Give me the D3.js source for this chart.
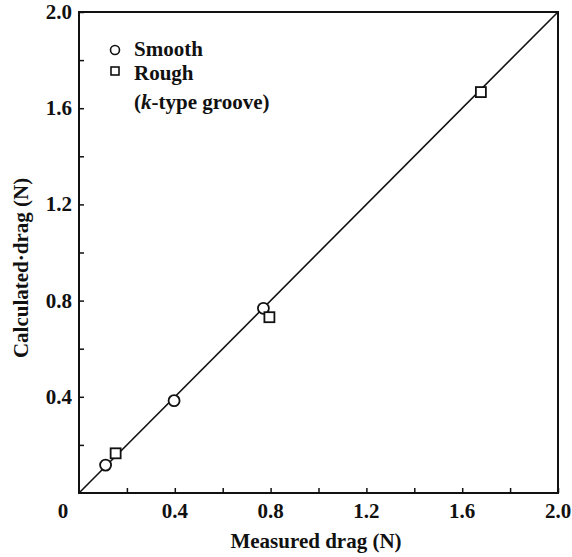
<!DOCTYPE html>
<html><head><meta charset="utf-8">
<script src="https://cdn.jsdelivr.net/npm/d3@7"></script>
<style>body{margin:0;background:#fff}svg{display:block}text{font-family:"Liberation Serif","Times New Roman",serif;font-weight:bold;fill:#111}</style>
</head><body>
<svg id="c" width="572" height="557"></svg>
<script>
const smoothX = [0.111, 0.397, 0.770];
const smoothY = [0.116, 0.384, 0.768];
const roughX = [0.153, 0.795, 1.678];
const roughY = [0.165, 0.731, 1.667];
const lineX = [0, 2.0];
const lineY = [0, 2.0];
const tickValues = [0.2, 0.4, 0.6, 0.8, 1.0, 1.2, 1.4, 1.6, 1.8, 2.0];
const labelValues = [0.4, 0.8, 1.2, 1.6, 2.0];
const legendLabels = ["Smooth", "Rough"];

const svg = d3.select("#c");
const x = d3.scaleLinear().domain([0, 2]).range([79, 558]);
const y = d3.scaleLinear().domain([0, 2]).range([493, 12]);
const ink = "#111";

// frame
svg.append("rect").attr("x", x(0)).attr("y", y(2)).attr("width", x(2) - x(0)).attr("height", y(0) - y(2))
  .attr("fill", "none").attr("stroke", ink).attr("stroke-width", 2);

// inward ticks
const bx = d3.axisTop(x).tickValues(tickValues).tickSize(5).tickFormat("");
const gb = svg.append("g").attr("transform", `translate(0,${y(0)})`).call(bx);
const ly = d3.axisRight(y).tickValues(tickValues).tickSize(5).tickFormat("");
const gl = svg.append("g").attr("transform", `translate(${x(0)},0)`).call(ly);
[gb, gl].forEach(g => { g.select(".domain").remove(); g.selectAll("line").attr("stroke", ink).attr("stroke-width", 1.5); });

// tick labels
svg.append("g").selectAll("text").data(labelValues).join("text")
  .attr("x", d => x(d)).attr("y", 518).attr("text-anchor", "middle").attr("font-size", 21).text(d => d.toFixed(1));
svg.append("g").selectAll("text").data(labelValues).join("text")
  .attr("x", 72).attr("y", d => y(d) + 7).attr("text-anchor", "end").attr("font-size", 21).text(d => d.toFixed(1));
svg.append("text").attr("x", 63).attr("y", 518).attr("text-anchor", "middle").attr("font-size", 21).text("0");

// axis titles
svg.append("text").attr("x", 316).attr("y", 548).attr("text-anchor", "middle").attr("font-size", 21).text("Measured drag (N)");
svg.append("text").attr("transform", "translate(28,268) rotate(-90)").attr("text-anchor", "middle").attr("font-size", 21).text("Calculated·drag (N)");

// diagonal line
svg.append("path").datum(lineX.map((d, i) => [d, lineY[i]]))
  .attr("d", d3.line().x(d => x(d[0])).y(d => y(d[1])))
  .attr("fill", "none").attr("stroke", ink).attr("stroke-width", 1.6);

// points
const smooth = smoothX.map((d, i) => [d, smoothY[i]]);
const rough = roughX.map((d, i) => [d, roughY[i]]);
svg.append("g").selectAll("circle").data(smooth).join("circle")
  .attr("cx", d => x(d[0])).attr("cy", d => y(d[1])).attr("r", 5.5)
  .attr("fill", "#fff").attr("stroke", ink).attr("stroke-width", 1.8);
svg.append("g").selectAll("rect").data(rough).join("rect")
  .attr("x", d => x(d[0]) - 5).attr("y", d => y(d[1]) - 5).attr("width", 10).attr("height", 10)
  .attr("fill", "#fff").attr("stroke", ink).attr("stroke-width", 1.8);

// legend
svg.append("circle").attr("cx", 115).attr("cy", 50).attr("r", 4.5).attr("fill", "#fff").attr("stroke", ink).attr("stroke-width", 1.6);
svg.append("rect").attr("x", 111).attr("y", 67).attr("width", 8).attr("height", 8).attr("fill", "#fff").attr("stroke", ink).attr("stroke-width", 1.6);
svg.append("text").attr("x", 134).attr("y", 56).attr("font-size", 21).text(legendLabels[0]);
svg.append("text").attr("x", 134).attr("y", 80).attr("font-size", 21).text(legendLabels[1]);
const t3 = svg.append("text").attr("x", 134).attr("y", 109).attr("font-size", 21);
t3.append("tspan").text("(");
t3.append("tspan").attr("font-style", "italic").text("k");
t3.append("tspan").text("-type groove)");
</script>
</body></html>
